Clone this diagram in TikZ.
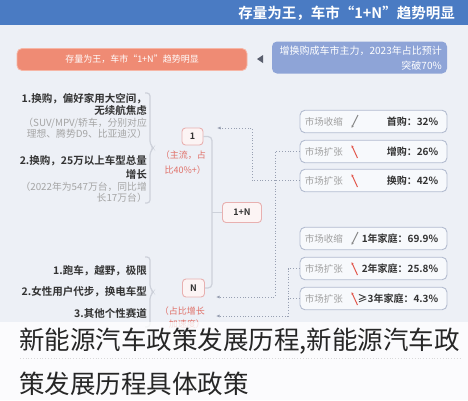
\documentclass[tikz,border=0pt]{standalone}
\usepackage{fontspec}
\setmainfont{Noto Sans CJK SC}[BoldFont={Noto Sans CJK SC Bold}]
\usetikzlibrary{arrows.meta,calc}
\definecolor{bg}{HTML}{EDF0F6}
\definecolor{head}{HTML}{4A7BC3}
\definecolor{salmon}{HTML}{EF8B74}
\definecolor{salmonline}{HTML}{F6B6A6}
\definecolor{lav}{HTML}{8EA4D7}
\definecolor{rboxline}{HTML}{B3BCD0}
\definecolor{rboxfill}{HTML}{F7F9FC}
\definecolor{pinkline}{HTML}{E8B0B0}
\definecolor{pinkfill}{HTML}{FCF4F4}
\definecolor{pinktext}{HTML}{E07068}
\definecolor{dark}{HTML}{333333}
\definecolor{cgray}{HTML}{A5A5A5}
\definecolor{statgray}{HTML}{A0A0A0}
\definecolor{dotc}{HTML}{98A0B2}
\definecolor{treec}{HTML}{CDD1DA}
\definecolor{icongray}{HTML}{888888}
\definecolor{iconred}{HTML}{E2574C}
\definecolor{tri}{HTML}{5A5F6E}
\newcommand\fsz[1]{\fontsize{#1}{#1}\selectfont}
\begin{document}
\begin{tikzpicture}[x=1pt,y=-1pt,
  rbox/.style={draw=rboxline, fill=rboxfill, rounded corners=5pt, line width=0.9pt, minimum width=147pt, minimum height=22.5pt, inner sep=0},
  pbox/.style={draw=pinkline, fill=pinkfill, rounded corners=3.5pt, line width=0.9pt, inner sep=0, font=\fsz{9}\bfseries, text=dark},
  lab/.style={inner sep=0, font=\fsz{10}\bfseries, text=dark, anchor=east},
  stat/.style={inner sep=0, font=\fsz{9.5}, text=statgray, anchor=west},
  ldark/.style={inner sep=0, anchor=east, font=\fsz{10.5}\bfseries, text=dark},
  lgraytxt/.style={inner sep=0, anchor=east, font=\fsz{9.8}, text=cgray},
  ptext/.style={inner sep=0, anchor=east, font=\fsz{9}, text=pinktext},
  dotline/.style={draw=dotc, dotted, line width=0.8pt},
  tipped/.style={-{Latex[length=3.5pt,width=3pt]}},
  treeline/.style={draw=treec, line width=1.2pt},
  shrinkicon/.style={draw=icongray, line width=1pt, -{Latex[length=2.5pt,width=2.5pt]}},
  growicon/.style={draw=iconred, line width=1pt, -{Latex[length=2.5pt,width=2.5pt]}}]
\useasboundingbox (0,0) rectangle (468,400);
\fill[bg] (0,0) rectangle (468,400);
% header
\fill[head] (0,0) rectangle (468,25);
\node[inner sep=0, anchor=east, text=white, font=\fsz{14.5}\bfseries] (title) at (455,13) {存量为王，车市“1+N”趋势明显};
% top boxes
\node[fill=salmon, draw=salmonline, line width=0.8pt, rounded corners=5pt, minimum width=230pt, minimum height=22pt, inner sep=0] (sbox) at (132,59.5) {};
\node[inner sep=0, text=white, font=\fsz{9}] at (sbox.center) {存量为王，车市“1+N”趋势明显};
\fill[tri] (257,59) -- (263,55) -- (263,63) -- cycle;
\node[fill=lav, rounded corners=5pt, minimum width=175pt, minimum height=32pt, inner sep=0] (lbox) at (359.5,57.5) {};
\node[inner sep=0, anchor=east, text=white, font=\fsz{10}] at (442,50.5) {增换购成车市主力，2023年占比预计};
\node[inner sep=0, anchor=east, text=white, font=\fsz{10}] at (442,65.5) {突破70\%};
% left column texts
\node[ldark] (u1) at (147,99) {1.换购，偏好家用大空间，};
\node[ldark] (u2) at (147,111) {无续航焦虑};
\node[lgraytxt] (u3) at (147,123) {（SUV/MPV/轿车，分别对应};
\node[lgraytxt] (u4) at (147,134) {理想、腾势D9、比亚迪汉）};
\node[ldark] (u5) at (147,161) {2.换购，25万以上车型总量};
\node[ldark] (u6) at (147,174) {增长};
\node[lgraytxt] (u7) at (147,187) {（2022年为547万台，同比增};
\node[lgraytxt] (u8) at (147,198) {长17万台）};
\node[ldark] (d1) at (147,271) {1.跑车，越野，极限};
\node[ldark] (d2) at (147,292) {2.女性用户代步，换电车型};
\node[ldark] (d3) at (147,313) {3.其他个性赛道};
% braces
\draw[treeline, rounded corners=3pt] (145,93) -- (150,93) -- (150,144) -- (153.5,148) -- (150,152) -- (150,203) -- (145,203);
\draw[treeline, rounded corners=3pt] (145,257) -- (150,257) -- (150,288) -- (153.5,292) -- (150,296) -- (150,327) -- (145,327);
% center tree
\node[pbox, minimum width=21pt, minimum height=17pt] (one) at (192.5,136.5) {1};
\node[pbox, minimum width=39pt, minimum height=20pt] (oneN) at (242,212.5) {1+N};
\node[pbox, minimum width=22pt, minimum height=18pt] (N) at (193.5,288) {N};
\draw[treeline, rounded corners=4pt] (one.east) -| (212,212.5) |- (N.east);
\draw[treeline] (212,212.5) -- (oneN.west);
\node[ptext] (p1) at (206,155.5) {（主流，占};
\node[ptext] (p2) at (206,170) {比40\%+）};
\node[ptext] (p3) at (205,311) {（占比增长};
\node[ptext] (p4) at (205,324) {加速度）};
% right boxes
\node[rbox] (b1) at (373.5,121.5) {};
\node[lab] at ([xshift=-9pt]b1.east) {首购：32\%};
\node[stat] at ([xshift=5pt]b1.west) {市场收缩};
\draw[shrinkicon] ($(b1.center)+(-15.5,-6.5)$) -- ($(b1.center)+(-22,6.5)$);
\node[rbox] (b2) at (373.5,151.5) {};
\node[lab] at ([xshift=-9pt]b2.east) {增购：26\%};
\node[stat] at ([xshift=5pt]b2.west) {市场扩张};
\draw[growicon] ($(b2.center)+(-16,6.5)$) -- ($(b2.center)+(-22,-6.5)$);
\node[rbox] (b3) at (373.5,180.5) {};
\node[lab] at ([xshift=-9pt]b3.east) {换购：42\%};
\node[stat] at ([xshift=5pt]b3.west) {市场扩张};
\draw[growicon] ($(b3.center)+(-16,6.5)$) -- ($(b3.center)+(-22,-6.5)$);
\node[rbox] (f1) at (373.5,238.5) {};
\node[lab] at ([xshift=-9pt]f1.east) {1年家庭：69.9\%};
\node[stat] at ([xshift=5pt]f1.west) {市场收缩};
\draw[shrinkicon] ($(f1.center)+(-15.5,-6.5)$) -- ($(f1.center)+(-22,6.5)$);
\node[rbox] (f2) at (373.5,268.5) {};
\node[lab] at ([xshift=-9pt]f2.east) {2年家庭：25.8\%};
\node[stat] at ([xshift=5pt]f2.west) {市场扩张};
\draw[growicon] ($(f2.center)+(-16,6.5)$) -- ($(f2.center)+(-22,-6.5)$);
\node[rbox] (f3) at (373.5,298.5) {};
\node[lab] at ([xshift=-9pt]f3.east) {≥3年家庭：4.3\%};
\node[stat] at ([xshift=5pt]f3.west) {市场扩张};
\draw[growicon] ($(f3.center)+(-16,6.5)$) -- ($(f3.center)+(-22,-6.5)$);
% dotted connectors
\coordinate (t1) at (217,128);
\coordinate (t2) at (216,297);
\coordinate (t3) at (216,316);
\draw[dotline, tipped] (b3.west) -- (252,180.5) |- (t1);
\draw[dotline, tipped] (b2.west) -- (275,151.5) |- (t2);
\draw[dotline, tipped] (f2.west) -- (288,268.5) |- (t3);
\draw[dotline] (f3.west) -- (288,298.5);
% caption overlay
\fill[white, opacity=0.78] (0,322) rectangle (468,400);
\draw[black!15, dotted, line width=0.8pt] (20,358) -- (460,358);
\node[inner sep=0, anchor=west, text=black!85, font=\fsz{25.5}] (cap1) at (19,341.5) {新能源汽车政策发展历程,新能源汽车政};
\node[inner sep=0, anchor=west, text=black!85, font=\fsz{25.5}] (cap2) at (19,384) {策发展历程具体政策};
\end{tikzpicture}
\end{document}
